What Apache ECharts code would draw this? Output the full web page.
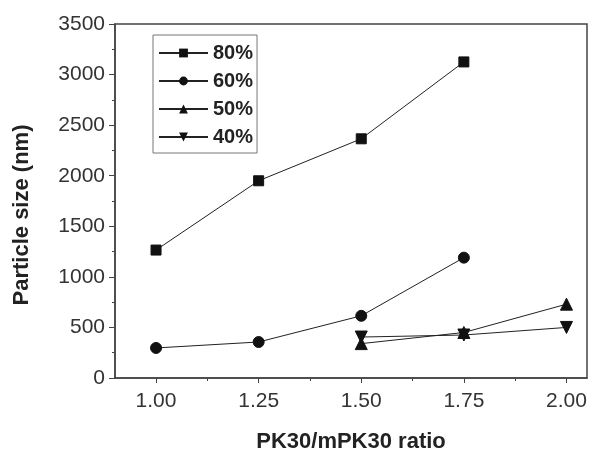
<!DOCTYPE html>
<html>
<head>
<meta charset="utf-8">
<script src="https://cdn.jsdelivr.net/npm/echarts@6/dist/echarts.min.js"></script>
<style>html,body{margin:0;padding:0;background:#fff;}#c{width:591px;height:449px;}</style>
</head>
<body>
<div id="c"></div>
<script>
var seriesNames = ['80%', '60%', '50%', '40%'];
var xTicks = [1.00, 1.25, 1.50, 1.75, 2.00];
var xMinorTicks = [1.125, 1.375, 1.625, 1.875];
var x80 = [1.00, 1.25, 1.50, 1.75];
var y80 = [1265, 1950, 2365, 3125];
var x60 = [1.00, 1.25, 1.50, 1.75];
var y60 = [297, 356, 615, 1190];
var x50 = [1.50, 1.75, 2.00];
var y50 = [340, 450, 730];
var x40 = [1.50, 1.75, 2.00];
var y40 = [405, 425, 500];

function pairs(xs, ys) { return xs.map(function (x, i) { return [x, ys[i]]; }); }

var font = 'Liberation Sans, Arial, sans-serif';
var chart = echarts.init(document.getElementById('c'), null, {renderer: 'canvas'});
function mk(name, xs, ys, symbol, size, rotate) {
  return {
    name: name, type: 'line', data: pairs(xs, ys),
    symbol: symbol, symbolSize: size, symbolRotate: rotate || 0,
    showAllSymbol: true,
    lineStyle: {color: '#222', width: 1},
    itemStyle: {color: '#111', borderColor: '#111'},
    emphasis: {disabled: true}, animation: false, z: 3
  };
}
chart.setOption({
  animation: false,
  backgroundColor: '#fff',
  grid: {left: 115, right: 4, top: 24, bottom: 71, show: true, borderColor: '#444', borderWidth: 1.5,
         containLabel: false, outerBoundsMode: 'none'},
  legend: {
    orient: 'vertical', left: 153, top: 35,
    padding: [8, 4, 6, 5], itemGap: 8, itemWidth: 49, itemHeight: 11,
    borderColor: '#777', borderWidth: 1,
    textStyle: {fontFamily: font, fontSize: 20, fontWeight: 'bold', color: '#222', lineHeight: 20, padding: [0, 0, 0, 0]},
    data: seriesNames
  },
  xAxis: [{
    type: 'value', min: 0.9, max: 2.05,
    axisLine: {show: true, lineStyle: {color: '#444', width: 1.5}},
    axisTick: {show: true, customValues: xTicks, length: 5, inside: false, lineStyle: {color: '#444'}},
    axisLabel: {customValues: xTicks, formatter: function (v) { return v.toFixed(2); }, fontFamily: font, fontSize: 21, color: '#333', margin: 13},
    splitLine: {show: false},
    name: 'PK30/mPK30 ratio', nameLocation: 'middle', nameGap: 53,
    nameTextStyle: {fontFamily: font, fontSize: 22, fontWeight: 'bold', color: '#222'}
  }, {
    type: 'value', min: 0.9, max: 2.05, position: 'bottom',
    axisLine: {show: false},
    axisTick: {show: true, customValues: xMinorTicks, length: 3, lineStyle: {color: '#444'}},
    axisLabel: {show: false},
    splitLine: {show: false}
  }],
  yAxis: {
    type: 'value', min: 0, max: 3500, interval: 500,
    axisLine: {show: true, lineStyle: {color: '#444', width: 1.5}},
    axisTick: {show: true, length: 6, lineStyle: {color: '#444'}},
    minorTick: {show: true, splitNumber: 2, length: 3, lineStyle: {color: '#444'}},
    axisLabel: {fontFamily: font, fontSize: 21, color: '#333', margin: 10, formatter: function (v) { return String(v); }},
    splitLine: {show: false},
    name: 'Particle size (nm)', nameLocation: 'middle', nameGap: 82,
    nameTextStyle: {fontFamily: font, fontSize: 22, fontWeight: 'bold', color: '#222', padding: [0, 28, 0, 0]}
  },
  series: [
    mk('80%', x80, y80, 'rect', 10),
    mk('60%', x60, y60, 'circle', 11),
    mk('50%', x50, y50, 'triangle', 12),
    mk('40%', x40, y40, 'triangle', 12, 180)
  ]
});
</script>
</body>
</html>
